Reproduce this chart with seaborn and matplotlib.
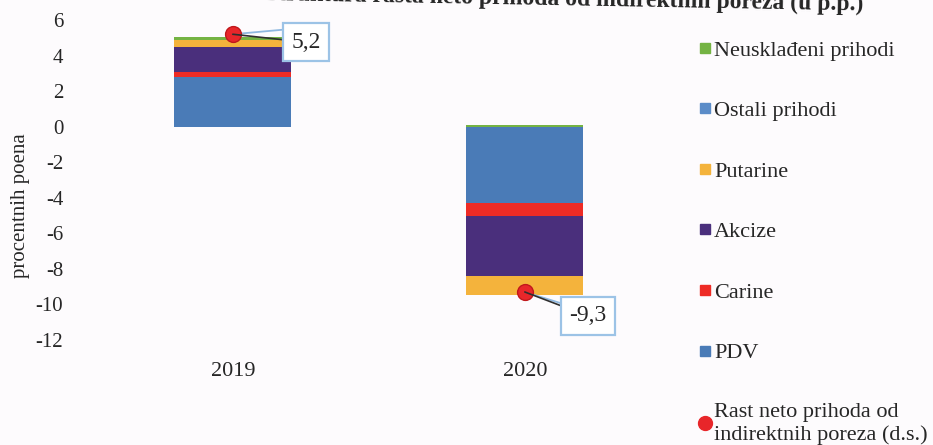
import numpy as np
import pandas as pd
import matplotlib
matplotlib.use("Agg")
import matplotlib.pyplot as plt
import seaborn as sns
from matplotlib.lines import Line2D

years = ["2019", "2020"]
pdv = [2.8, -4.3]
carine = [0.25, -0.7]
akcize = [1.45, -3.4]
putarine = [0.4, -1.05]
ostali = [0.0, 0.0]
neuskladeni = [0.15, 0.1]
rast = [5.2, -9.3]
rast_labels = ["5,2", "-9,3"]

series_names = ["PDV", "Carine", "Akcize", "Putarine", "Ostali prihodi", "Neusklađeni prihodi"]
series_vals = [pdv, carine, akcize, putarine, ostali, neuskladeni]
colors = {"PDV": "#4a7bb7", "Carine": "#ee2b25", "Akcize": "#4a2f7c",
          "Putarine": "#f4b33c", "Ostali prihodi": "#5b8cc8",
          "Neusklađeni prihodi": "#74b343"}

sns.set_theme(style="white")
plt.rcParams['font.family'] = ['Liberation Serif', 'DejaVu Serif']

fig = plt.figure(figsize=(9.33, 4.45), dpi=100)
bg = "#fdfbfd"
fig.patch.set_facecolor(bg)
ax = fig.add_axes([0.093, 0.236, 0.626, 0.719])
ax.set_facecolor(bg)

pos_bottom = np.zeros(len(years))
neg_bottom = np.zeros(len(years))
for name, vals in zip(series_names, series_vals):
    v = np.array(vals, dtype=float)
    bottoms = np.where(v >= 0, pos_bottom, neg_bottom)
    df = pd.DataFrame({"year": years, "val": v})
    sns.barplot(data=df, x="year", y="val", bottom=bottoms, color=colors[name],
                width=0.4, saturation=1, ax=ax, errorbar=None, linewidth=0)
    pos_bottom = pos_bottom + np.where(v >= 0, v, 0)
    neg_bottom = neg_bottom + np.where(v < 0, v, 0)

dfp = pd.DataFrame({"year": years, "rast": rast})
sns.scatterplot(data=dfp, x="year", y="rast", ax=ax, s=130, color="#e8262a",
                edgecolor="#c0181c", linewidth=1, zorder=5)

# label box positions (layout offsets relative to each point)
box_dx = [0.25, 0.216]
box_dy = [-0.45, -1.35]
blue_dx = [0.168, 0.137]
blue_dy = [0.25, -0.7]
for i, (val, lab) in enumerate(zip(rast, rast_labels)):
    ax.annotate("", xy=(i, val), xytext=(i + blue_dx[i], val + blue_dy[i]),
                textcoords="data",
                arrowprops=dict(arrowstyle="-", color="#8fb8e0", lw=1.3,
                                shrinkA=0, shrinkB=0), zorder=4)
    ax.annotate(lab, xy=(i, val), xytext=(i + box_dx[i], val + box_dy[i]),
                textcoords="data", fontsize=17, va="center", ha="center",
                bbox=dict(boxstyle="square,pad=0.35", fc="white", ec="#9cc3e6", lw=1.6),
                arrowprops=dict(arrowstyle="-", color="#2f2f2f", lw=1.2,
                                shrinkA=0, shrinkB=0), zorder=6)

ax.set_xlim(-0.5, 1.5)
ax.set_ylim(-12, 6)
ax.set_yticks(np.arange(-12, 7, 2))
ax.set_yticklabels([str(t) for t in range(-12, 7, 2)])
ax.tick_params(axis="y", length=0, pad=17, labelsize=15)
ax.tick_params(axis="x", length=0, pad=16, labelsize=16)
for s in ax.spines.values():
    s.set_visible(False)
ax.set_xlabel("")
ax.set_ylabel("procentnih poena", fontsize=15)
ax.yaxis.set_label_coords(-0.098, 0.42)

fig.text(0.605, 0.976, "Struktura rasta neto prihoda od indirektnih poreza (u p.p.)",
         ha="center", va="baseline", fontsize=17, fontweight="bold", rotation=-1.0)

handles = []
for name in ["Neusklađeni prihodi", "Ostali prihodi", "Putarine", "Akcize", "Carine", "PDV"]:
    handles.append(Line2D([0], [0], marker="s", linestyle="", markersize=7,
                          markerfacecolor=colors[name], markeredgecolor=colors[name],
                          label=name))
handles.append(Line2D([0], [0], marker="o", linestyle="", markersize=10,
                      markerfacecolor="#e8262a", markeredgecolor="#e8262a",
                      label="Rast neto prihoda od\nindirektnih poreza (d.s.)"))
leg = fig.legend(handles=handles, loc="upper left", bbox_to_anchor=(0.738, 0.935),
                 frameon=False, fontsize=16, handlelength=0.5, handletextpad=0.15,
                 labelspacing=1.8, borderpad=0)
leg.get_texts()[-1].set_linespacing(1.2)

fig.savefig("out.png", dpi=100, facecolor=fig.get_facecolor())
